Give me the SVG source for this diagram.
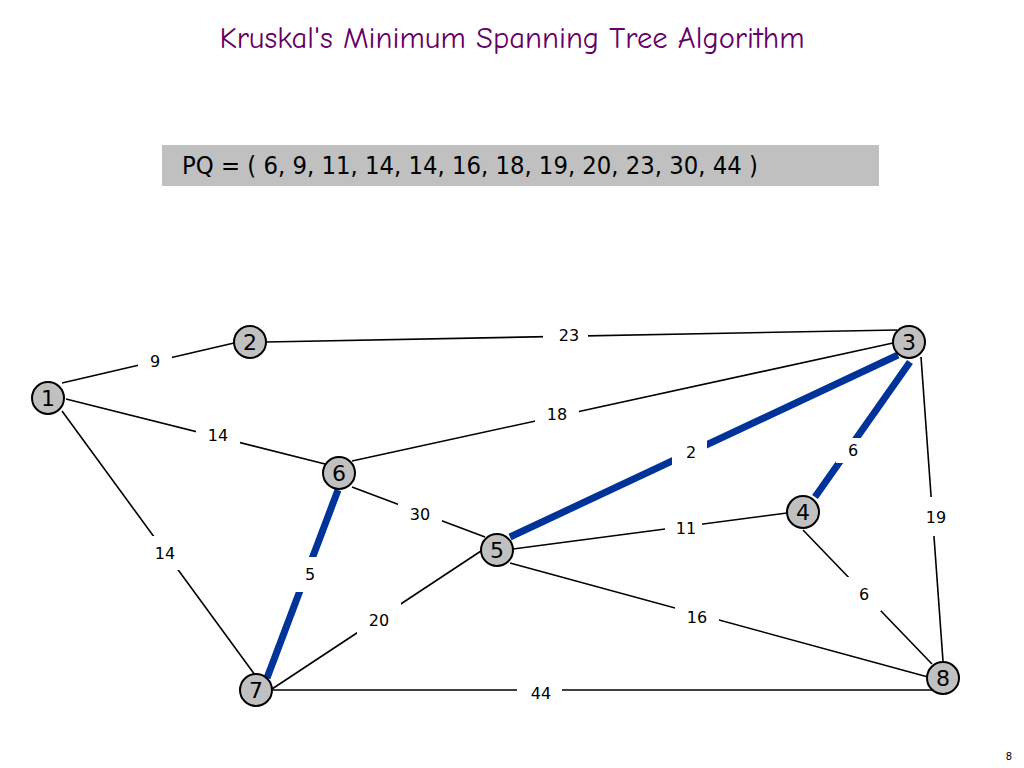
<svg xmlns="http://www.w3.org/2000/svg" width="1024" height="768" viewBox="0 0 1024 768">
<style>
.e{stroke:#000;stroke-width:1.6;fill:none}
.t{stroke:#003399;stroke-width:7;fill:none}
.bg{fill:#fff}
.lb{font-family:"DejaVu Sans",sans-serif;font-size:16px;fill:#000;text-anchor:middle;dominant-baseline:central}
.nd circle{fill:#c0c0c0;stroke:#000;stroke-width:2}
.nd text{font-family:"DejaVu Sans",sans-serif;font-size:22px;fill:#000;text-anchor:middle;dominant-baseline:central}
</style>
<rect width="1024" height="768" fill="#fff"/>
<text x="512" y="48" font-family="'Comic Neue','DejaVu Sans',sans-serif" font-size="30" fill="#660066" text-anchor="middle" textLength="585" lengthAdjust="spacingAndGlyphs">Kruskal's Minimum Spanning Tree Algorithm</text>
<rect x="162" y="145" width="717" height="41" fill="#c0c0c0"/>
<text x="182" y="174" font-family="'DejaVu Sans',sans-serif" font-size="24" fill="#000" textLength="576" lengthAdjust="spacingAndGlyphs">PQ = ( 6, 9, 11, 14, 14, 16, 18, 19, 20, 23, 30, 44 )</text>
<g id="connectors">
<line class="e" x1="62" y1="383" x2="234" y2="343"/>
<line class="e" x1="266" y1="342" x2="897" y2="330"/>
<line class="e" x1="66" y1="399" x2="325" y2="464"/>
<line class="e" x1="62" y1="411" x2="255" y2="675"/>
<line class="e" x1="352" y1="461" x2="893" y2="343"/>
<line class="e" x1="352" y1="487" x2="485" y2="537"/>
<line class="e" x1="513" y1="549" x2="787" y2="513"/>
<line class="e" x1="510" y1="563" x2="928" y2="677"/>
<line class="e" x1="803" y1="530" x2="932" y2="664"/>
<line class="e" x1="921" y1="357" x2="943" y2="661"/>
<line class="e" x1="272" y1="689" x2="481" y2="551"/>
<line class="e" x1="272" y1="690" x2="934" y2="690"/>
<line class="t" x1="338" y1="490" x2="267" y2="678"/>
<line class="t" x1="510" y1="537" x2="898" y2="355"/>
<line class="t" x1="910" y1="362" x2="815" y2="497"/>
<g id="labels">
<rect class="bg" x="138" y="344" width="34" height="34"/><text class="lb" x="155" y="361">9</text>
<rect class="bg" x="543" y="318" width="45" height="34"/><text class="lb" x="569" y="335">23</text>
<rect class="bg" x="196" y="418" width="44" height="34"/><text class="lb" x="218" y="435">14</text>
<rect class="bg" x="143" y="536" width="44" height="34"/><text class="lb" x="165" y="553">14</text>
<rect class="bg" x="535" y="397" width="44" height="34"/><text class="lb" x="557" y="414">18</text>
<rect class="bg" x="398" y="497" width="44" height="34"/><text class="lb" x="420" y="514">30</text>
<rect class="bg" x="293" y="557" width="34" height="35"/><text class="lb" x="310" y="574">5</text>
<rect class="bg" x="672" y="436" width="35" height="32"/><text class="lb" x="691" y="452">2</text>
<rect class="bg" x="836" y="438" width="34" height="25"/><text class="lb" x="853" y="450">6</text>
<rect class="bg" x="665" y="511" width="37" height="34"/><text class="lb" x="686" y="528">11</text>
<rect class="bg" x="914" y="497" width="44" height="39"/><text class="lb" x="936" y="517">19</text>
<rect class="bg" x="847" y="577" width="34" height="34"/><text class="lb" x="864" y="594">6</text>
<rect class="bg" x="675" y="600" width="44" height="34"/><text class="lb" x="697" y="617">16</text>
<rect class="bg" x="357" y="603" width="44" height="34"/><text class="lb" x="379" y="620">20</text>
<rect class="bg" x="517" y="676" width="45" height="34"/><text class="lb" x="541" y="693">44</text>
</g>
</g>
<g id="n1" class="nd"><circle cx="48" cy="398" r="16"/><text x="48" y="398">1</text></g>
<g id="n2" class="nd"><circle cx="250" cy="342" r="16"/><text x="250" y="342">2</text></g>
<g id="n3" class="nd"><circle cx="909" cy="342" r="16"/><text x="909" y="342">3</text></g>
<g id="n4" class="nd"><circle cx="803" cy="512" r="16"/><text x="803" y="512">4</text></g>
<g id="n5" class="nd"><circle cx="497" cy="550" r="16"/><text x="497" y="550">5</text></g>
<g id="n6" class="nd"><circle cx="339" cy="473" r="16"/><text x="339" y="473">6</text></g>
<g id="n7" class="nd"><circle cx="256" cy="690" r="16"/><text x="256" y="690">7</text></g>
<g id="n8" class="nd"><circle cx="943" cy="678" r="16"/><text x="943" y="678">8</text></g>
<text x="1009" y="760" font-family="'DejaVu Sans',sans-serif" font-size="10" fill="#000" text-anchor="middle">8</text>
</svg>
